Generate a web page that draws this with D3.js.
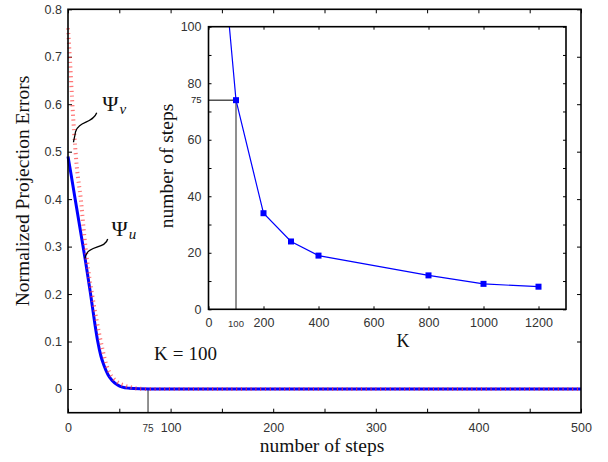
<!DOCTYPE html>
<html>
<head>
<meta charset="utf-8">
<script src="https://cdn.jsdelivr.net/npm/d3@7"></script>
<style>
  html, body { margin: 0; padding: 0; background: #fff; }
  .tick text { font-family: "Liberation Sans", Arial, sans-serif; fill: #333; }
  .serif { font-family: "Liberation Serif", "Times New Roman", serif; fill: #111; }
</style>
</head>
<body>
<svg id="chart" width="608" height="462"></svg>
<script>
// main plot: normalized projection error vs number of steps (K = 100)
const psiUSteps = [0, 3, 7, 12, 17, 22, 26, 29, 32, 35, 39, 43, 48, 53, 60, 70, 80, 100, 200, 300, 400, 500];
const psiUError = [0.49, 0.452, 0.40, 0.335, 0.27, 0.20, 0.14, 0.10, 0.07, 0.05, 0.03, 0.018, 0.009, 0.004, 0.0015, 0.0003, 0, 0, 0, 0, 0, 0];
const psiVSteps = [0, 2, 4, 6, 8.5, 12.5, 16, 19.5, 25, 30.5, 34, 37.5, 41, 46, 54, 62, 70, 80, 100, 200, 300, 400, 500];
const psiVError = [0.76, 0.69, 0.61, 0.54, 0.47, 0.40, 0.32, 0.255, 0.18, 0.115, 0.08, 0.05, 0.032, 0.018, 0.008, 0.003, 0.0005, 0, 0, 0, 0, 0, 0];

const xTicks = [0, 100, 200, 300, 400, 500];
const xMinorTicks = [0, 50, 100, 150, 200, 250, 300, 350, 400, 450, 500];
const yTicks = [0, 0.1, 0.2, 0.3, 0.4, 0.5, 0.6, 0.7, 0.8];
const convergeStep = 78;      // where the marker line sits
const convergeLabel = "75";

// inset: steps needed vs K
const insetK = [50, 100, 200, 300, 400, 800, 1000, 1200];
const insetSteps = [128, 74, 34, 24, 19, 12, 9, 8];
const insetXTicks = [0, 200, 400, 600, 800, 1000, 1200];
const insetYTicks = [0, 20, 40, 60, 80, 100];
const insetYMinor = [0, 10, 20, 30, 40, 50, 60, 70, 80, 90, 100];
const insetMarkK = 100, insetMarkSteps = 74, insetMarkLabel = "75";

const svg = d3.select('#chart');

const x = d3.scaleLinear().domain([0, 500]).range([68, 581]);
const y = d3.scaleLinear().domain([-0.05, 0.8]).range([412.7, 9.3]);

const fmtY = d => d === 0 ? '0' : d.toFixed(1);

// ticks
svg.append('g')
  .attr('transform', `translate(0,${y.range()[0]})`)
  .call(d3.axisBottom(x).tickValues(xMinorTicks).tickSize(-4).tickPadding(10)
    .tickFormat(d => xTicks.includes(d) ? d : ''))
  .call(g => g.select('.domain').remove())
  .selectAll('text').style('font-size', '12.5px');

svg.append('g')
  .attr('transform', `translate(0,${y.range()[1]})`)
  .call(d3.axisTop(x).tickValues(xMinorTicks).tickSize(-4).tickFormat(''))
  .call(g => g.select('.domain').remove());

svg.append('g')
  .attr('transform', `translate(${x.range()[0]},0)`)
  .call(d3.axisLeft(y).tickValues(yTicks).tickSize(-4).tickPadding(6).tickFormat(fmtY))
  .call(g => g.select('.domain').remove())
  .selectAll('text').style('font-size', '12.5px');

svg.append('g')
  .attr('transform', `translate(${x.range()[1]},0)`)
  .call(d3.axisRight(y).tickValues(yTicks).tickSize(-4).tickFormat(''))
  .call(g => g.select('.domain').remove());

svg.selectAll('.tick line').attr('stroke', '#000');

// convergence marker
svg.append('line')
  .attr('x1', x(convergeStep)).attr('x2', x(convergeStep))
  .attr('y1', y(0)).attr('y2', y.range()[0])
  .attr('stroke', '#555').attr('stroke-width', 1.3);
svg.append('text')
  .attr('x', x(convergeStep)).attr('y', 431.5)
  .attr('text-anchor', 'middle')
  .style('font-family', '"Liberation Sans", Arial, sans-serif')
  .style('font-size', '10px').style('fill', '#333')
  .text(convergeLabel);

// curves
const lineU = d3.line().x(d => x(d[0])).y(d => y(d[1])).curve(d3.curveMonotoneX);
svg.append('path')
  .datum(d3.zip(psiUSteps, psiUError))
  .attr('d', lineU)
  .attr('fill', 'none').attr('stroke', '#0000ff').attr('stroke-width', 3);

svg.append('path')
  .datum(d3.zip(psiVSteps, psiVError))
  .attr('d', lineU)
  .attr('fill', 'none').attr('stroke', '#ff3c3c').attr('stroke-opacity', 0.7)
  .attr('stroke-width', 4).attr('stroke-dasharray', '1.2,3.6');

// frame
svg.append('rect')
  .attr('x', x.range()[0]).attr('y', y.range()[1])
  .attr('width', x.range()[1] - x.range()[0]).attr('height', y.range()[0] - y.range()[1])
  .attr('fill', 'none').attr('stroke', '#000').attr('stroke-width', 1.6);

// axis titles
svg.append('text').attr('class', 'serif')
  .attr('x', 322).attr('y', 452).attr('text-anchor', 'middle')
  .style('font-size', '19.5px').text('number of steps');
svg.append('text').attr('class', 'serif')
  .attr('transform', 'translate(29,191) rotate(-90)').attr('text-anchor', 'middle')
  .style('font-size', '19.5px').text('Normalized Projection Errors');

// K = 100 note
{
  const t = svg.append('text').attr('class', 'serif')
    .attr('x', 154).attr('y', 360).style('font-size', '19px');
  t.append('tspan').text('K');
  t.append('tspan').attr('dx', 5).text('=');
  t.append('tspan').attr('dx', 5).text('100');
}

// Psi labels with curly leaders
function psiLabel(lx, ly, sub, leader) {
  const t = svg.append('text').attr('class', 'serif')
    .attr('x', lx).attr('y', ly).style('font-size', '22px');
  t.append('tspan').text('Ψ');
  t.append('tspan').attr('dx', 1).attr('dy', 3).style('font-size', '15px').style('font-style', 'italic').text(sub);
  svg.append('path').attr('d', leader)
    .attr('fill', 'none').attr('stroke', '#000').attr('stroke-width', 1.3);
}
{
  const sx = x(28), sy = y(0.582), ex = x(5.4), ey = y(0.52);
  psiLabel(x(33.5), y(0.585), 'v',
    `M${sx},${sy} C${sx - 4},${sy + 11} ${ex + 5},${sy + 8} ${ex + 2},${sy + 19} C${ex + 1},${ey - 4} ${ex},${ey - 2} ${ex},${ey}`);
}
{
  const sx = x(38.7), sy = y(0.316), ex = x(16.6), ey = y(0.275);
  psiLabel(x(42.5), y(0.322), 'u',
    `M${sx},${sy} C${sx - 2},${sy + 9} ${ex + 6},${sy + 7} ${ex + 2},${sy + 14} C${ex + 1},${ey - 3} ${ex},${ey - 2} ${ex},${ey}`);
}

// ---- inset ----
const ix = d3.scaleLinear().domain([0, 1300]).range([208.5, 566]);
const iy = d3.scaleLinear().domain([0, 100]).range([309.3, 26.7]);

svg.append('rect')
  .attr('x', ix.range()[0]).attr('y', iy.range()[1])
  .attr('width', ix.range()[1] - ix.range()[0]).attr('height', iy.range()[0] - iy.range()[1])
  .attr('fill', '#fff');

svg.append('clipPath').attr('id', 'inset-clip')
  .append('rect')
  .attr('x', ix.range()[0]).attr('y', iy.range()[1])
  .attr('width', ix.range()[1] - ix.range()[0]).attr('height', iy.range()[0] - iy.range()[1]);

const ig = svg.append('g');

ig.append('g')
  .attr('transform', `translate(0,${iy.range()[0]})`)
  .call(d3.axisBottom(ix).tickValues(insetXTicks).tickSize(-3).tickPadding(8.5).tickFormat(d3.format('d')))
  .call(g => g.select('.domain').remove())
  .selectAll('text').style('font-size', '12.5px');
ig.append('g')
  .attr('transform', `translate(0,${iy.range()[1]})`)
  .call(d3.axisTop(ix).tickValues(insetXTicks).tickSize(-3).tickFormat(''))
  .call(g => g.select('.domain').remove());
ig.append('g')
  .attr('transform', `translate(${ix.range()[0]},0)`)
  .call(d3.axisLeft(iy).tickValues(insetYMinor).tickSize(-3).tickPadding(7)
    .tickFormat(d => insetYTicks.includes(d) ? d : ''))
  .call(g => g.select('.domain').remove())
  .selectAll('text').style('font-size', '12.5px');
ig.append('g')
  .attr('transform', `translate(${ix.range()[1]},0)`)
  .call(d3.axisRight(iy).tickValues(insetYMinor).tickSize(-3).tickFormat(''))
  .call(g => g.select('.domain').remove());
ig.selectAll('.tick line').attr('stroke', '#000');

// small labels for the marked point
ig.append('text')
  .attr('x', ix(insetMarkK)).attr('y', 326.5).attr('text-anchor', 'middle')
  .style('font-family', '"Liberation Sans", Arial, sans-serif')
  .style('font-size', '9.5px').style('fill', '#333').text(insetMarkK);
ig.append('text')
  .attr('x', ix.range()[0] - 7).attr('y', iy(insetMarkSteps)).attr('dy', '0.32em')
  .attr('text-anchor', 'end')
  .style('font-family', '"Liberation Sans", Arial, sans-serif')
  .style('font-size', '9.5px').style('fill', '#222').text(insetMarkLabel);

// guide lines
ig.append('line')
  .attr('x1', ix.range()[0]).attr('x2', ix(insetMarkK))
  .attr('y1', iy(insetMarkSteps)).attr('y2', iy(insetMarkSteps))
  .attr('stroke', '#111').attr('stroke-width', 1.1);
ig.append('line')
  .attr('x1', ix(insetMarkK)).attr('x2', ix(insetMarkK))
  .attr('y1', iy(insetMarkSteps)).attr('y2', iy.range()[0])
  .attr('stroke', '#333').attr('stroke-width', 1.1);

const insetData = d3.zip(insetK, insetSteps);
ig.append('path')
  .datum(insetData)
  .attr('clip-path', 'url(#inset-clip)')
  .attr('d', d3.line().x(d => ix(d[0])).y(d => iy(d[1])))
  .attr('fill', 'none').attr('stroke', '#0000ff').attr('stroke-width', 1.2);

ig.selectAll('rect.pt')
  .data(insetData.filter(d => d[1] <= 100))
  .join('rect')
  .attr('class', 'pt')
  .attr('x', d => ix(d[0]) - 3).attr('y', d => iy(d[1]) - 3)
  .attr('width', 6).attr('height', 6)
  .attr('fill', '#0000ff');

ig.append('rect')
  .attr('x', ix.range()[0]).attr('y', iy.range()[1])
  .attr('width', ix.range()[1] - ix.range()[0]).attr('height', iy.range()[0] - iy.range()[1])
  .attr('fill', 'none').attr('stroke', '#000').attr('stroke-width', 1.6);

ig.append('text').attr('class', 'serif')
  .attr('x', 403).attr('y', 346.5).attr('text-anchor', 'middle')
  .style('font-size', '18px').text('K');
ig.append('text').attr('class', 'serif')
  .attr('transform', 'translate(173,166) rotate(-90)').attr('text-anchor', 'middle')
  .style('font-size', '19.5px').text('number of steps');
</script>
</body>
</html>
